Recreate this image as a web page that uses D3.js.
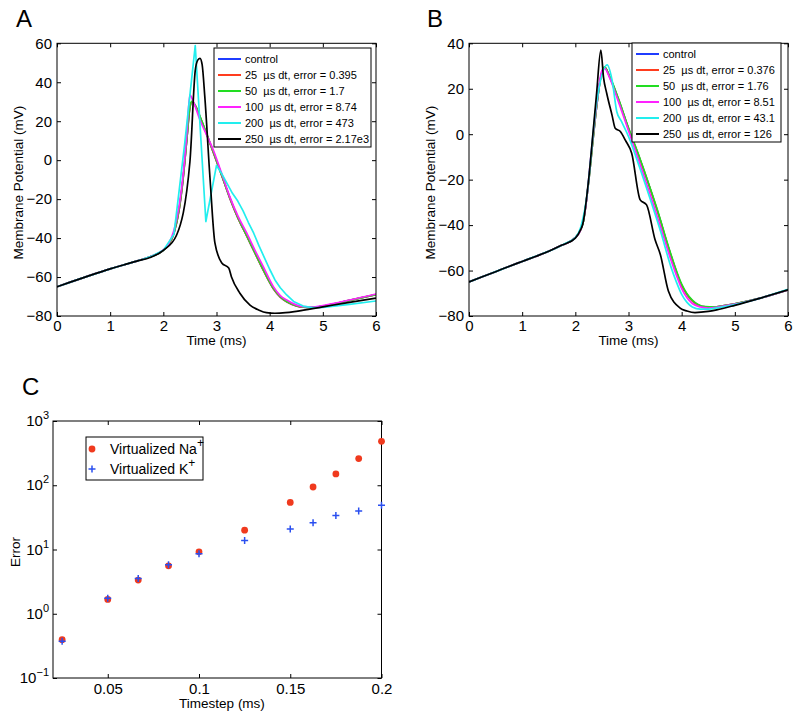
<!DOCTYPE html>
<html><head><meta charset="utf-8">
<script src="https://cdn.jsdelivr.net/npm/d3@7"></script>
<style>
body{margin:0;background:#fff}
text{font-family:"Liberation Sans",Arial,Helvetica,sans-serif;fill:#000}
</style>
</head><body>
<svg id="fig" width="800" height="719"></svg>
<script>
// ---------------- DATA ----------------
const timeTicks = [0, 1, 2, 3, 4, 5, 6];
const vTicksA = [-80, -60, -40, -20, 0, 20, 40, 60];
const vTicksB = [-80, -60, -40, -20, 0, 20, 40];
const seriesLabels = ["control", "25  µs dt", "50  µs dt", "100  µs dt", "200  µs dt", "250  µs dt"];
const errorsA = ["", "0.395", "1.7", "8.74", "473", "2.17e3"];
const errorsB = ["", "0.376", "1.76", "8.51", "43.1", "126"];
const seriesColors = ["#1f3cff", "#ff3c1e", "#22dd22", "#ff22ff", "#22eeee", "#000000"];

// Panel A traces [time (ms), membrane potential (mV)]
const A_control = [[0,-65],[0.25,-62.6],[0.5,-60.3],[0.75,-58],[1,-55.8],[1.25,-53.8],[1.5,-51.8],[1.75,-49.6],[2,-46.3],[2.1,-43.5],[2.2,-37.5],[2.3,-25],[2.37,-10],[2.44,10],[2.5,27],[2.54,30],[2.6,28],[2.7,21.5],[2.94,4],[3.1,-8],[3.25,-19.5],[3.4,-29.5],[3.57,-39],[3.72,-47.5],[3.88,-56.5],[4.07,-66],[4.2,-70.3],[4.32,-72.7],[4.5,-74.8],[4.63,-75.5],[4.8,-75.6],[5,-74.9],[5.5,-72],[6,-69]];
const A_dt25 = [[0,-65],[0.25,-62.6],[0.5,-60.3],[0.75,-58],[1,-55.8],[1.25,-53.8],[1.5,-51.8],[1.75,-49.6],[2,-46.3],[2.1,-43.5],[2.2,-37.5],[2.3,-25],[2.37,-10],[2.44,10],[2.5,27],[2.54,30],[2.6,28],[2.7,21.5],[2.94,4],[3.1,-8],[3.25,-19.5],[3.4,-29.5],[3.57,-39],[3.72,-47.5],[3.88,-56.5],[4.07,-66],[4.2,-70.3],[4.32,-72.7],[4.5,-74.8],[4.63,-75.5],[4.8,-75.6],[5,-74.9],[5.5,-72],[6,-69]];
const A_dt50 = [[0,-65],[0.25,-62.6],[0.5,-60.3],[0.75,-58],[1,-55.8],[1.25,-53.8],[1.5,-51.8],[1.75,-49.6],[2,-46.3],[2.1,-43.4],[2.2,-37.2],[2.3,-24.5],[2.37,-9.5],[2.44,10.5],[2.5,27.5],[2.54,30.3],[2.6,28.2],[2.7,21.8],[2.94,4.3],[3.1,-7.8],[3.25,-19.2],[3.4,-29.3],[3.57,-38.8],[3.72,-47.3],[3.88,-56.2],[4.07,-65.8],[4.2,-70.1],[4.32,-72.6],[4.5,-74.7],[4.63,-75.5],[4.8,-75.6],[5,-74.9],[5.5,-72],[6,-69]];
const A_dt100 = [[0,-65],[0.25,-62.6],[0.5,-60.3],[0.75,-58],[1,-55.8],[1.25,-53.8],[1.5,-51.8],[1.75,-49.6],[2,-46.1],[2.1,-43],[2.2,-36],[2.3,-23],[2.37,-8],[2.44,13],[2.5,33.5],[2.55,31],[2.69,20.6],[2.94,5.2],[3.1,-7],[3.25,-18.7],[3.4,-28.5],[3.57,-37.5],[3.72,-46],[3.88,-54.7],[4.07,-64.9],[4.2,-69.5],[4.32,-71.8],[4.5,-74.3],[4.63,-75.2],[4.8,-75.4],[5,-74.6],[5.5,-71.8],[6,-68.7]];
const A_dt200 = [[0,-65],[0.2,-63.1],[0.4,-61.2],[0.6,-59.4],[0.8,-57.6],[1,-55.8],[1.2,-54.2],[1.4,-52.6],[1.6,-51],[1.8,-49.1],[2,-46.3],[2.2,-38],[2.4,8],[2.6,58.8],[2.8,-31.5],[3,-2.7],[3.1,-7],[3.2,-12],[3.3,-17],[3.4,-21],[3.5,-26],[3.6,-32],[3.7,-37.5],[3.8,-44],[3.9,-50],[4,-56],[4.1,-61.5],[4.2,-65.5],[4.32,-69.2],[4.45,-72.5],[4.63,-74.9],[4.8,-75.7],[5,-75.6],[5.5,-74],[6,-72.3]];
const A_dt250 = [[0,-65],[0.25,-62.6],[0.5,-60.3],[0.75,-58],[1,-55.8],[1.25,-53.8],[1.5,-51.8],[1.75,-50],[2,-46.3],[2.25,-38.4],[2.5,-0.8],[2.6,46],[2.65,51.5],[2.69,52.3],[2.73,49],[2.78,32.6],[2.88,-10.2],[2.97,-42.5],[3.1,-52.8],[3.23,-55.4],[3.28,-59.8],[3.44,-68.3],[3.63,-74.4],[3.8,-77],[3.94,-78.3],[4.1,-78.6],[4.3,-78.3],[4.5,-77.6],[5,-75.3],[5.5,-73],[6,-70.8]];

// Panel B traces
const B_control = [[0,-65],[0.25,-62.7],[0.5,-60.5],[0.75,-58.2],[1,-56],[1.25,-53.8],[1.5,-51.5],[1.75,-48.8],[2,-45.5],[2.1,-42],[2.15,-38.5],[2.25,-21],[2.33,-3],[2.4,12],[2.47,24],[2.55,29.5],[2.65,25],[2.8,16],[3,2.5],[3.2,-10],[3.4,-23.5],[3.6,-38],[3.7,-46],[3.8,-53.5],[3.9,-60.5],[4,-66.5],[4.1,-70.5],[4.2,-73.3],[4.3,-75],[4.45,-76],[4.6,-76],[4.8,-75.4],[5,-74.6],[5.5,-72],[6,-68.5]];
const B_dt25 = [[0,-65],[0.25,-62.7],[0.5,-60.5],[0.75,-58.2],[1,-56],[1.25,-53.8],[1.5,-51.5],[1.75,-48.8],[2,-45.5],[2.1,-42],[2.15,-38.5],[2.25,-21],[2.33,-3],[2.4,12],[2.47,24],[2.55,29.5],[2.65,25],[2.8,16],[3,2.5],[3.2,-10],[3.4,-23.5],[3.6,-38],[3.7,-46],[3.8,-53.5],[3.9,-60.5],[4,-66.5],[4.1,-70.5],[4.2,-73.3],[4.3,-75],[4.45,-76],[4.6,-76],[4.8,-75.4],[5,-74.6],[5.5,-72],[6,-68.5]];
const B_dt50 = [[0,-65],[0.25,-62.7],[0.5,-60.5],[0.75,-58.2],[1,-56],[1.25,-53.8],[1.5,-51.5],[1.75,-48.8],[2,-45.5],[2.1,-42],[2.15,-38.5],[2.25,-21],[2.33,-3],[2.4,12],[2.47,24],[2.55,29.5],[2.65,25.3],[2.8,16.3],[3,2.8],[3.2,-9.7],[3.4,-23.2],[3.6,-37.6],[3.7,-45.6],[3.8,-53],[3.9,-60],[4,-66],[4.1,-70.2],[4.2,-73],[4.3,-74.8],[4.45,-75.9],[4.6,-76],[4.8,-75.4],[5,-74.6],[5.5,-72],[6,-68.5]];
const B_dt100 = [[0,-65],[0.25,-62.7],[0.5,-60.5],[0.75,-58.2],[1,-56],[1.25,-53.8],[1.5,-51.5],[1.75,-48.8],[2,-45.5],[2.1,-42],[2.2,-31],[2.3,-8],[2.4,13],[2.5,28],[2.55,29],[2.65,24.5],[2.8,15],[3,1.5],[3.2,-12],[3.4,-26],[3.6,-40.5],[3.8,-55.5],[3.9,-62],[4,-68],[4.1,-72],[4.2,-74.5],[4.35,-76],[4.5,-76.5],[4.7,-76],[5,-74.8],[5.5,-72],[6,-68.5]];
const B_dt200 = [[0,-65],[0.2,-63.2],[0.4,-61.4],[0.6,-59.6],[0.8,-57.8],[1,-56],[1.2,-54.2],[1.4,-52.4],[1.6,-50.5],[1.8,-48.2],[2,-45.5],[2.1,-41],[2.2,-30],[2.4,14],[2.6,30.5],[2.69,23.9],[2.78,9.9],[2.87,5.5],[3,-1],[3.2,-14],[3.4,-28],[3.6,-42.5],[3.8,-58.5],[3.9,-65],[4,-70.5],[4.1,-74],[4.2,-76],[4.35,-77],[4.5,-77],[4.7,-76.3],[5,-75],[5.5,-72],[6,-68.3]];
const B_dt250 = [[0,-65],[0.25,-62.7],[0.5,-60.5],[0.75,-58.2],[1,-56],[1.25,-53.8],[1.5,-51.5],[1.75,-48.8],[2,-45.7],[2.1,-42],[2.14,-39.5],[2.25,-20],[2.33,0],[2.4,18],[2.48,37],[2.53,25],[2.59,18],[2.69,8.4],[2.75,2.6],[2.85,1.1],[2.94,-2.6],[3.06,-8.4],[3.22,-28.9],[3.34,-31.1],[3.5,-46.5],[3.6,-53],[3.75,-69],[3.97,-76.5],[4.1,-77.8],[4.25,-78.5],[4.5,-78],[4.66,-77.3],[5,-75.3],[5.5,-72],[6,-68.5]];

// Panel C
const timesteps = [0.025, 0.05, 0.0667, 0.0833, 0.1, 0.125, 0.15, 0.1625, 0.175, 0.1875, 0.2];
const naError = [0.395, 1.67, 3.34, 5.57, 9.2, 20, 54, 94, 150, 260, 483];
const kError = [0.372, 1.75, 3.54, 5.78, 8.57, 13.8, 20.9, 26, 33.7, 39.8, 49];
const stepTicks = [0.05, 0.1, 0.15, 0.2];
const errorExps = [-1, 0, 1, 2, 3];

// ---------------- DRAW ----------------
const svg = d3.select("#fig");
const FONT_TICK = 15, FONT_LAB = 13.5;

function panelLetter(txt, x, y) {
  svg.append("text").attr("x", x).attr("y", y).attr("font-size", 24).text(txt);
}

function tracePanel(id, box, yDomain, yTicks, traces, errors, leg, straightSet) {
  const x = d3.scaleLinear().domain([0, 6]).range([box.x0, box.x1]);
  const y = d3.scaleLinear().domain(yDomain).range([box.y1, box.y0]);
  const g = svg.append("g");
  g.append("clipPath").attr("id", "clip" + id).append("rect")
    .attr("x", box.x0).attr("y", box.y0).attr("width", box.x1 - box.x0).attr("height", box.y1 - box.y0);
  const smooth = d3.line().x(d => x(d[0])).y(d => y(d[1])).curve(d3.curveMonotoneX);
  const straight = d3.line().x(d => x(d[0])).y(d => y(d[1])).curve(d3.curveLinear);
  const pg = g.append("g").attr("clip-path", `url(#clip${id})`);
  traces.forEach((tr, i) => {
    pg.append("path").datum(tr).attr("d", straightSet.includes(i) ? straight : smooth).attr("fill", "none")
      .attr("stroke", seriesColors[i]).attr("stroke-width", 1.7).attr("stroke-linejoin", "round");
  });
  const ax = [
    g.append("g").attr("transform", `translate(0,${box.y1})`).call(d3.axisBottom(x).tickValues(timeTicks).tickSize(-4).tickPadding(4).tickFormat(d3.format("d"))),
    g.append("g").attr("transform", `translate(0,${box.y0})`).call(d3.axisTop(x).tickValues(timeTicks).tickSize(-4).tickFormat("")),
    g.append("g").attr("transform", `translate(${box.x0},0)`).call(d3.axisLeft(y).tickValues(yTicks).tickSize(-4).tickPadding(5)),
    g.append("g").attr("transform", `translate(${box.x1},0)`).call(d3.axisRight(y).tickValues(yTicks).tickSize(-4).tickFormat(""))
  ];
  ax.forEach(a => { a.select(".domain").remove(); a.selectAll("text").attr("font-size", FONT_TICK).attr("font-family", null); a.selectAll("line").attr("stroke", "#000"); });
  g.append("rect").attr("x", box.x0).attr("y", box.y0).attr("width", box.x1 - box.x0).attr("height", box.y1 - box.y0)
    .attr("fill", "none").attr("stroke", "#000").attr("stroke-width", 1);
  g.append("text").attr("x", (box.x0 + box.x1) / 2).attr("y", box.y1 + 29).attr("text-anchor", "middle")
    .attr("font-size", FONT_LAB).text("Time (ms)");
  g.append("text").attr("transform", `translate(${box.x0 - 34},${(box.y0 + box.y1) / 2 + 3}) rotate(-90)`)
    .attr("text-anchor", "middle").attr("font-size", FONT_LAB).text("Membrane Potential (mV)");
  const lg = g.append("g");
  lg.append("rect").attr("x", leg.x).attr("y", leg.y).attr("width", leg.w).attr("height", leg.h)
    .attr("fill", "#fff").attr("stroke", "#000").attr("stroke-width", 1);
  seriesLabels.forEach((lab, i) => {
    const yy = leg.y + 11 + i * 16;
    lg.append("line").attr("x1", leg.x + 4).attr("x2", leg.x + 27).attr("y1", yy).attr("y2", yy)
      .attr("stroke", seriesColors[i]).attr("stroke-width", 2);
    lg.append("text").attr("x", leg.x + 31).attr("y", yy).attr("dy", "0.36em").attr("font-size", 11)
      .style("white-space", "pre").text(i === 0 ? lab : `${lab}, error = ${errors[i]}`);
  });
}

panelLetter("A", 16, 27);
panelLetter("B", 427, 27);
panelLetter("C", 22, 395);

tracePanel("A", {x0: 57, x1: 376, y0: 43.3, y1: 316}, [-80, 60], vTicksA,
  [A_control, A_dt25, A_dt50, A_dt100, A_dt200, A_dt250], errorsA, {x: 214, y: 48, w: 157, h: 99}, [4]);
tracePanel("B", {x0: 469, x1: 788, y0: 43.3, y1: 316}, [-80, 40], vTicksB,
  [B_control, B_dt25, B_dt50, B_dt100, B_dt200, B_dt250], errorsB, {x: 632, y: 43, w: 149, h: 99}, []);

// Panel C
(function () {
  const box = {x0: 53, x1: 381.5, y0: 421, y1: 678};
  const x = d3.scaleLinear().domain([0.02, 0.2]).range([box.x0, box.x1]);
  const y = d3.scaleLog().domain([0.1, 1000]).range([box.y1, box.y0]);
  const g = svg.append("g");
  const decades = errorExps.map(e => Math.pow(10, e));
  const ax = [
    g.append("g").attr("transform", `translate(0,${box.y1})`).call(d3.axisBottom(x).tickValues(stepTicks).tickSize(-4).tickPadding(5).tickFormat(d => String(d))),
    g.append("g").attr("transform", `translate(0,${box.y0})`).call(d3.axisTop(x).tickValues(stepTicks).tickSize(-4).tickFormat("")),
    g.append("g").attr("transform", `translate(${box.x0},0)`).call(d3.axisLeft(y).tickValues(decades).tickSize(-4).tickFormat("")),
    g.append("g").attr("transform", `translate(${box.x1},0)`).call(d3.axisRight(y).tickValues(decades).tickSize(-4).tickFormat(""))
  ];
  ax.forEach(a => { a.select(".domain").remove(); a.selectAll("text").attr("font-size", FONT_TICK).attr("font-family", null); a.selectAll("line").attr("stroke", "#000"); });
  errorExps.forEach(e => {
    const ty = y(Math.pow(10, e));
    const t = g.append("text").attr("x", box.x0 - 4).attr("y", ty + 5).attr("text-anchor", "end").attr("font-size", FONT_TICK);
    t.append("tspan").text("10");
    t.append("tspan").attr("dy", -7).attr("font-size", 11).text(e < 0 ? "\u2212" + Math.abs(e) : String(e));
  });
  g.append("rect").attr("x", box.x0).attr("y", box.y0).attr("width", box.x1 - box.x0).attr("height", box.y1 - box.y0)
    .attr("fill", "none").attr("stroke", "#000").attr("stroke-width", 1);
  g.selectAll("circle.na").data(timesteps).enter().append("circle")
    .attr("cx", d => x(d)).attr("cy", (d, i) => y(naError[i])).attr("r", 3.4).attr("fill", "#f03a1e");
  g.selectAll("path.k").data(timesteps).enter().append("path")
    .attr("d", "M-3.5,0H3.5M0,-3.5V3.5")
    .attr("transform", (d, i) => `translate(${x(d)},${y(kError[i])})`)
    .attr("stroke", "#2a4ff0").attr("stroke-width", 1.5).attr("fill", "none");
  g.append("text").attr("x", 222).attr("y", 708).attr("text-anchor", "middle").attr("font-size", FONT_LAB).text("Timestep (ms)");
  g.append("text").attr("transform", `translate(20,552) rotate(-90)`).attr("text-anchor", "middle").attr("font-size", FONT_LAB).text("Error");
  const lg = g.append("g");
  lg.append("rect").attr("x", 86).attr("y", 437).attr("width", 117).attr("height", 43).attr("fill", "#fff").attr("stroke", "#000");
  lg.append("circle").attr("cx", 92).attr("cy", 449).attr("r", 3.4).attr("fill", "#f03a1e");
  lg.append("path").attr("d", "M-3.5,0H3.5M0,-3.5V3.5").attr("transform", "translate(92,469)")
    .attr("stroke", "#2a4ff0").attr("stroke-width", 1.5);
  const t1 = lg.append("text").attr("x", 110).attr("y", 454).attr("font-size", 14);
  t1.append("tspan").text("Virtualized Na");
  t1.append("tspan").attr("dy", -7).attr("font-size", 12).text("+");
  const t2 = lg.append("text").attr("x", 110).attr("y", 474).attr("font-size", 14);
  t2.append("tspan").text("Virtualized K");
  t2.append("tspan").attr("dy", -7).attr("font-size", 12).text("+");
})();
</script>
</body></html>
